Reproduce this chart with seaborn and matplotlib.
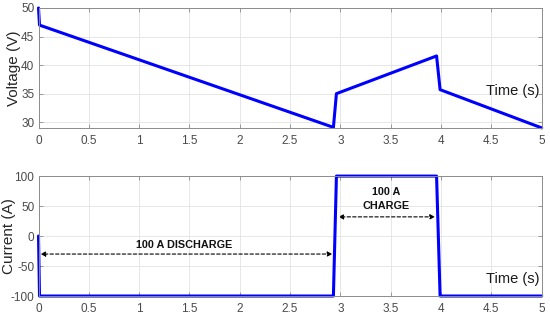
import matplotlib
matplotlib.use("Agg")
import matplotlib.pyplot as plt
import numpy as np
import pandas as pd
import seaborn as sns

# values
t_volt = [0.0, 0.01, 2.93, 2.96, 3.955, 3.99, 5.0]
voltage = [50.0, 47.0, 29.1, 35.0, 41.6, 35.7, 29.0]

t_curr = [0.0, 0.01, 2.93, 2.96, 3.955, 3.99, 5.0]
current = [0.0, -100.0, -100.0, 100.0, 100.0, -100.0, -100.0]

x_ticks = [0, 0.5, 1, 1.5, 2, 2.5, 3, 3.5, 4, 4.5, 5]
x_ticklabels = ['0', '0.5', '1', '1.5', '2', '2.5', '3', '3.5', '4', '4.5', '5']
v_ticks = [30, 35, 40, 45, 50]
i_ticks = [-100, -50, 0, 50, 100]

df_v = pd.DataFrame({'t': t_volt, 'v': voltage})
df_i = pd.DataFrame({'t': t_curr, 'i': current})

sns.set_style('whitegrid', {'grid.color': '#e3e3e3', 'axes.edgecolor': '#8c8c8c'})
plt.rcParams['font.family'] = ['Liberation Sans', 'DejaVu Sans']
plt.rcParams['axes.unicode_minus'] = False

fig = plt.figure(figsize=(5.5, 3.19), dpi=100)
ax1 = fig.add_axes([0.07, 0.599, 0.915, 0.376])
ax2 = fig.add_axes([0.07, 0.072, 0.915, 0.376])

sns.lineplot(data=df_v, x='t', y='v', ax=ax1, color='#0000ff', lw=2.2,
             sort=False, estimator=None, clip_on=False)
sns.lineplot(data=df_i, x='t', y='i', ax=ax2, color='#0000ff', lw=2.2,
             sort=False, estimator=None, clip_on=False)

ax1.set_ylim(29, 50)
ax1.set_yticks(v_ticks)
ax2.set_ylim(-100, 100)
ax2.set_yticks(i_ticks)
ax1.set_ylabel('Voltage (V)', fontsize=11, color='#262626', labelpad=0)
ax2.set_ylabel('Current (A)', fontsize=11, color='#262626', labelpad=-4)

for ax in (ax1, ax2):
    ax.set_xlim(0, 5)
    ax.set_xticks(x_ticks)
    ax.set_xticklabels(x_ticklabels)
    ax.set_xlabel('')
    ax.tick_params(direction='in', length=3, width=0.6, colors='#8c8c8c',
                   labelcolor='#4a4a4a', labelsize=8.5, pad=3,
                   top=True, right=True, left=True, bottom=True)
    ax.tick_params(axis='x', pad=5)
    for s in ax.spines.values():
        s.set_linewidth(0.7)
    ax.grid(True, lw=0.6)
    ax.text(0.995, 0.31 if ax is ax1 else 0.14, 'Time (s)', transform=ax.transAxes,
            ha='right', va='center', fontsize=10.5, color='#1a1a1a')

# annotations on the current plot
arrow = dict(arrowstyle='<|-|>', linestyle=(0, (3, 2)), color='black',
             lw=0.8, mutation_scale=7, shrinkA=0, shrinkB=0)
ax2.annotate('', xy=(0.02, -30), xytext=(2.92, -30), arrowprops=arrow)
ax2.annotate('', xy=(2.98, 32), xytext=(3.94, 32), arrowprops=arrow)
ax2.text(1.45, -15, '100 A DISCHARGE', ha='center', va='center',
         fontsize=7.8, fontweight='bold', color='#111111')
ax2.text(3.45, 62, '100 A\nCHARGE', ha='center', va='center', linespacing=1.55,
         fontsize=7.8, fontweight='bold', color='#111111')

fig.savefig('out.png', dpi=100)
